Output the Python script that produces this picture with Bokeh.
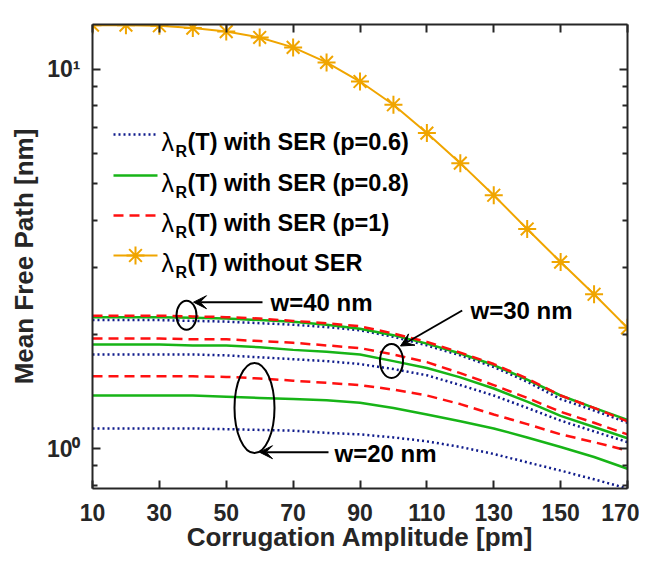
import numpy as np
from bokeh.plotting import figure
from bokeh.models import (Range1d, LinearAxis, LogAxis, FixedTicker, Label, Arrow,
                          VeeHead, ColumnDataSource)
from bokeh.core.properties import value
from bokeh.embed import file_html
from bokeh.resources import INLINE

# ---------------- data ----------------
amplitude = [10, 20, 30, 40, 50, 60, 70, 80, 90, 100, 110, 120, 130, 140, 150, 160, 170]

without_ser = [13.05, 13.05, 13.0, 12.82, 12.55, 12.11, 11.40, 10.41, 9.27, 8.05,
               6.78, 5.65, 4.65, 3.79, 3.10, 2.55, 2.08]

p06_w40 = [2.18, 2.18, 2.18, 2.17, 2.16, 2.14, 2.12, 2.09, 2.05, 1.97, 1.87, 1.76, 1.64, 1.50, 1.35, 1.26, 1.17]
p08_w40 = [2.22, 2.22, 2.22, 2.21, 2.20, 2.18, 2.16, 2.12, 2.07, 1.99, 1.89, 1.78, 1.66, 1.52, 1.38, 1.28, 1.19]
p10_w40 = [2.24, 2.24, 2.24, 2.23, 2.22, 2.20, 2.17, 2.14, 2.10, 2.01, 1.91, 1.79, 1.67, 1.53, 1.38, 1.28, 1.18]

p06_w30 = [1.77, 1.77, 1.77, 1.77, 1.76, 1.74, 1.72, 1.70, 1.67, 1.62, 1.56, 1.47, 1.38, 1.28, 1.185, 1.11, 1.04]
p08_w30 = [1.88, 1.88, 1.88, 1.87, 1.87, 1.85, 1.82, 1.80, 1.77, 1.70, 1.63, 1.54, 1.44, 1.33, 1.22, 1.14, 1.065]
p10_w30 = [1.95, 1.95, 1.95, 1.94, 1.94, 1.92, 1.90, 1.87, 1.84, 1.77, 1.69, 1.58, 1.47, 1.36, 1.25, 1.17, 1.09]

p06_w20 = [1.13, 1.13, 1.13, 1.13, 1.125, 1.12, 1.115, 1.10, 1.09, 1.07, 1.045, 1.01, 0.968, 0.92, 0.875, 0.83, 0.785]
p08_w20 = [1.38, 1.38, 1.38, 1.38, 1.37, 1.36, 1.35, 1.34, 1.32, 1.28, 1.23, 1.18, 1.13, 1.07, 1.01, 0.95, 0.885]
p10_w20 = [1.55, 1.55, 1.55, 1.55, 1.545, 1.53, 1.51, 1.49, 1.47, 1.43, 1.38, 1.31, 1.23, 1.16, 1.09, 1.04, 0.988]

x_ticks = [10, 30, 50, 70, 90, 110, 130, 150, 170]
y_major = [1, 10]
y_major_labels = ["10⁰", "10¹"]
y_minor = [0.8, 0.9, 2, 3, 4, 5, 6, 7, 8, 9]

legend_labels = ["(T) with SER (p=0.6)", "(T) with SER (p=0.8)",
                 "(T) with SER (p=1)", "(T) without SER"]
annotations = ["w=40 nm", "w=30 nm", "w=20 nm"]

# ---------------- style ----------------
FONT = "Liberation Sans"
AX = "#262626"
BLUE = "#101C8C"
GREEN = "#17B417"
RED = "#FF1010"
ORANGE = "#F0A500"

X_LO, X_HI = 10, 170
Y_LO, Y_HI = 0.785, 13.1

# layout helpers (reference-image pixel -> data position) for annotations
FL, FR, FT, FB = 92, 627, 24, 488
def xd(px):
    return X_LO + (px - FL) * (X_HI - X_LO) / (FR - FL)
def yd(py):
    lo, hi = np.log10(Y_LO), np.log10(Y_HI)
    return 10 ** (hi - (py - FT) * (hi - lo) / (FB - FT))

p = figure(width=639, height=560, y_axis_type="log",
           x_range=Range1d(X_LO, X_HI), y_range=Range1d(Y_LO, Y_HI),
           output_backend="svg", toolbar_location=None,
           min_border_left=92, min_border_right=12, min_border_top=24, min_border_bottom=72)
p.xgrid.visible = False
p.ygrid.visible = False
p.outline_line_color = None
p.background_fill_color = "white"

xt = FixedTicker(ticks=x_ticks, minor_ticks=[])
yt = FixedTicker(ticks=y_major, minor_ticks=y_minor)

def style_axis(ax):
    ax.axis_line_width = 2
    ax.axis_line_color = AX
    ax.major_tick_in = 8
    ax.major_tick_out = 0
    ax.minor_tick_in = 5
    ax.minor_tick_out = 0
    ax.major_tick_line_width = 2
    ax.minor_tick_line_width = 2
    ax.major_tick_line_color = AX
    ax.minor_tick_line_color = AX

def hide_labels(ax):
    ax.major_label_text_font_size = "1px"
    ax.major_label_text_alpha = 0
    ax.major_label_standoff = 0

xa = p.xaxis[0]
xa.ticker = xt
style_axis(xa)
xa.major_label_text_font = FONT
xa.major_label_text_font_size = "23px"
xa.major_label_text_font_style = "bold"
xa.major_label_text_color = AX
xa.major_label_standoff = 15
xa.axis_label = "Corrugation Amplitude [pm]"
xa.axis_label_text_font = FONT
xa.axis_label_text_font_size = "26px"
xa.axis_label_text_font_style = "bold"
xa.axis_label_text_color = AX
xa.axis_label_standoff = -2

ya = p.yaxis[0]
ya.ticker = yt
style_axis(ya)
ya.major_label_overrides = dict(zip(y_major, y_major_labels))
ya.major_label_text_font = FONT
ya.major_label_text_font_size = "23px"
ya.major_label_text_font_style = "bold"
ya.major_label_text_color = AX
ya.major_label_standoff = 12
ya.axis_label = "Mean Free Path [nm]"
ya.axis_label_text_font = FONT
ya.axis_label_text_font_size = "26px"
ya.axis_label_text_font_style = "bold"
ya.axis_label_text_color = AX
ya.axis_label_standoff = 5

top = LinearAxis(ticker=xt)
style_axis(top)
hide_labels(top)
p.add_layout(top, "above")

right = LogAxis(ticker=yt)
style_axis(right)
hide_labels(right)
p.add_layout(right, "right")

# ---------------- series ----------------
src = ColumnDataSource(dict(x=amplitude, nos=without_ser,
                            b40=p06_w40, g40=p08_w40, r40=p10_w40,
                            b30=p06_w30, g30=p08_w30, r30=p10_w30,
                            b20=p06_w20, g20=p08_w20, r20=p10_w20))

for k in ["b40", "b30", "b20"]:
    p.line("x", k, source=src, line_color=BLUE, line_width=2.5, line_dash="2 3")
for k in ["g40", "g30", "g20"]:
    p.line("x", k, source=src, line_color=GREEN, line_width=2.5)
for k in ["r40", "r30", "r20"]:
    p.line("x", k, source=src, line_color=RED, line_width=2.5, line_dash="10 6")
p.line("x", "nos", source=src, line_color=ORANGE, line_width=2)
p.scatter("x", "nos", source=src, marker="asterisk", size=18,
          line_color=ORANGE, line_width=2)

# ---------------- legend (manual, for subscript R) ----------------
rows = [134, 175, 215, 255]
styles = [dict(line_color=BLUE, line_width=2.5, line_dash="2 3"),
          dict(line_color=GREEN, line_width=2.5),
          dict(line_color=RED, line_width=2.5, line_dash="10 6"),
          dict(line_color=ORANGE, line_width=2)]
for r, st, lab in zip(rows, styles, legend_labels):
    yy = yd(r)
    p.line([xd(113), xd(157)], [yy, yy], **st)
    p.add_layout(Label(x=xd(161), y=yy, text="λ", y_offset=-7,
                       text_baseline="alphabetic", text_font=FONT,
                       text_font_size="25px", text_font_style="normal", text_color="black"))
    p.add_layout(Label(x=xd(175), y=yy, text="R", y_offset=-17,
                       text_baseline="alphabetic", text_font=FONT,
                       text_font_size="16px", text_font_style="bold", text_color="black"))
    p.add_layout(Label(x=xd(187), y=yy, text=lab, y_offset=-7,
                       text_baseline="alphabetic", text_font=FONT,
                       text_font_size="23.5px", text_font_style="bold", text_color="black"))
p.scatter([xd(135)], [yd(255)], marker="asterisk", size=18, line_color=ORANGE, line_width=2)

# ---------------- annotations ----------------
p.ellipse(x=[xd(186), xd(391), xd(254)], y=[yd(314.7), yd(360.5), yd(407.5)],
          width=[20, 23, 40], height=[29, 34, 90],
          width_units="screen", height_units="screen",
          fill_color=None, line_color="black", line_width=2)

arrows = [((262, 301.7), (193, 301.7)),
          ((461.7, 310), (400, 345.5)),
          ((328, 451.7), (259, 451.7))]
for (sx, sy), (ex, ey) in arrows:
    p.add_layout(Arrow(end=VeeHead(size=13, fill_color="black", line_color="black", line_width=1),
                       x_start=xd(sx), y_start=yd(sy), x_end=xd(ex), y_end=yd(ey),
                       line_color="black", line_width=2))

for txt, (px, py) in zip(annotations, [(270, 302), (470, 310), (334, 453)]):
    p.add_layout(Label(x=xd(px), y=yd(py), text=txt, text_baseline="middle",
                       text_align="left", text_font=FONT, text_font_size="24px",
                       text_font_style="bold", text_color="black"))

open("out.html", "w").write(file_html(p, INLINE))
